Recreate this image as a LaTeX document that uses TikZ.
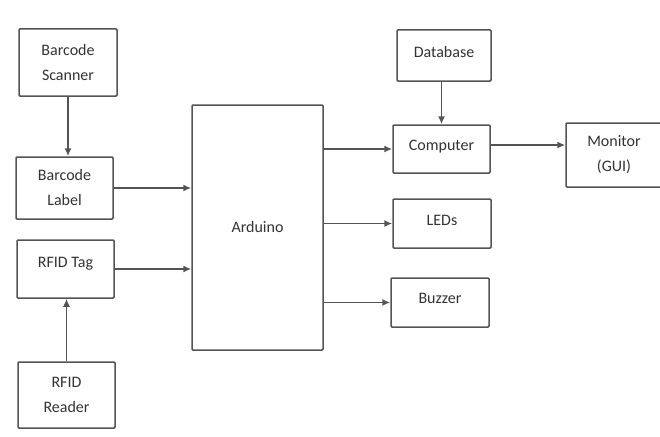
\documentclass[tikz,border=0pt]{standalone}
\usepackage{fontspec}
\setmainfont{Carlito}
\usetikzlibrary{arrows.meta,positioning}
\definecolor{lincol}{gray}{0.33}
\definecolor{txtcol}{gray}{0.2}
\tikzset{
	blk/.style={draw=lincol, line width=1.5pt, rounded corners=1pt, text=txtcol, align=center,
		font=\fontsize{16}{25}\selectfont, inner sep=0pt},
	conn/.style={-{Latex[length=8pt,width=7pt]}, draw=lincol, line width=1.5pt}
}
\begin{document}
\begin{tikzpicture}[x=1pt,y=-1pt]
				\useasboundingbox (0,0) rectangle (660,436);
				% inputs
				\node[blk, minimum width=98pt, minimum height=67pt] (scan) at (68,62.5) {Barcode\\Scanner};
				\node[blk, minimum width=97pt, minimum height=62pt] (label) at (64.5,188) {Barcode\\Label};
				\node[blk, minimum width=97pt, minimum height=58pt, text depth=14pt] (tag) at (65.5,269) {RFID Tag};
				\node[blk, minimum width=97pt, minimum height=66pt] (reader) at (66.5,395) {RFID\\Reader};
				% controller
				\node[blk, minimum width=131pt, minimum height=245pt] (ard) at (257.5,227.5) {Arduino};
				% outputs
				\node[blk, minimum width=94pt, minimum height=51pt, text depth=8pt] (db) at (444,55.5) {Database};
				\node[blk, minimum width=97pt, minimum height=48pt, text depth=8pt] (comp) at (441.5,149) {Computer};
				\node[blk, minimum width=98pt, minimum height=49pt, text depth=7pt] (leds) at (442,223.5) {LEDs};
				\node[blk, minimum width=98pt, minimum height=49pt, text depth=8pt] (buzz) at (440,302.5) {Buzzer};
				\node[blk, minimum width=96pt, minimum height=64pt] (mon) at (614,155) {Monitor\\(GUI)};
				% arrows
				\draw[conn] (scan.south) -- (scan.south |- label.north);
				\draw[conn] (label.east) -- (label.east -| ard.west);
				\draw[conn] (tag.east) -- (tag.east -| ard.west);
				\draw[conn] (reader.north) -- (reader.north |- tag.south);
				\draw[conn] (comp.west -| ard.east) -- (comp.west);
				\draw[conn] (leds.west -| ard.east) -- (leds.west);
				\draw[conn] (buzz.west -| ard.east) -- (buzz.west);
				\draw[conn] (comp.north |- db.south) -- (comp.north);
				\draw[conn] ([yshift=4pt]comp.east) -- ([yshift=4pt]comp.east -| mon.west);
			\end{tikzpicture}
\end{document}
